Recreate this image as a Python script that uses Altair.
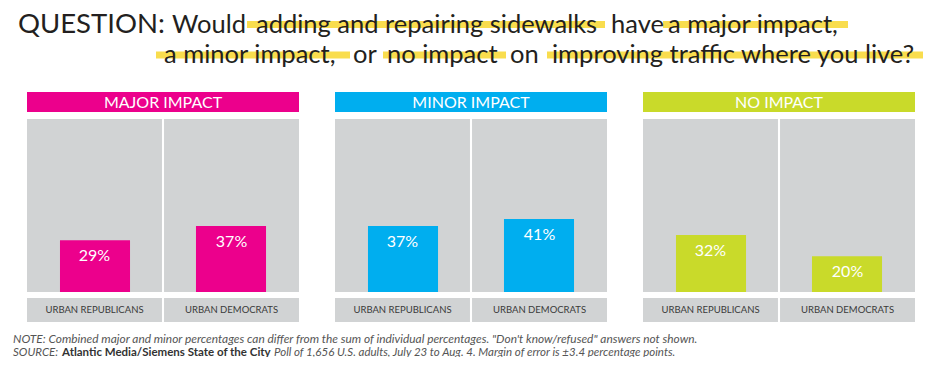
import altair as alt
import pandas as pd

# ---------------- data ----------------
impacts = ["MAJOR IMPACT", "MINOR IMPACT", "NO IMPACT"]
groups = ["URBAN REPUBLICANS", "URBAN DEMOCRATS"]
republicans = [29, 37, 32]
democrats = [37, 41, 20]
impact_colors = ["#EC008C", "#00AEEF", "#C9DA2A"]

title_line1 = ["QUESTION:", "Would", "adding and repairing sidewalks", "have", "a major impact,"]
title_line2 = ["a minor impact,", "or", "no impact", "on", "improving traffic where you live?"]

note_text = ("NOTE: Combined major and minor percentages can differ from the sum of "
             "individual percentages. \"Don't know/refused\" answers not shown.")
source_parts = ["SOURCE:", "Atlantic Media/Siemens State of the City",
                "Poll of 1,656 U.S. adults, July 23 to Aug. 4. Margin of error is \u00b13.4 percentage points."]

# ---------------- layout (pixels, chart coordinates) ----------------
W, H = 924, 349
line1_x = [10, 164, 248, 603, 660]
line1_size = [27.5, 25.5, 25.5, 25.5, 25.5]
line2_x = [156, 345, 379, 502, 544]
line1_y, line2_y = 25, 54.5
hl_spans = [(239, 597, 16.5), (655, 840, 16.5), (148, 342, 47), (375, 498, 47), (539, 915, 47)]
HL_T = 3.5
source_x = [5, 54, 266]
note_y, source_y = 335, 348

# ---------------- tables ----------------
rows = []
for i, imp in enumerate(impacts):
    for g, vals in zip(groups, [republicans, democrats]):
        rows.append({"impact": imp, "group": g, "value": vals[i], "full": 97,
                     "label": f"{vals[i]}%"})
df = pd.DataFrame(rows)
panels = pd.DataFrame({"impact": impacts})

title_rows = []
for w, x, s in zip(title_line1, line1_x, line1_size):
    title_rows.append({"text": w, "x": x, "y": line1_y, "size": s})
for w, x in zip(title_line2, line2_x):
    title_rows.append({"text": w, "x": x, "y": line2_y, "size": 25.5})
title_df = pd.DataFrame(title_rows)

hl_df = pd.DataFrame([{"x1": a, "x2": b, "y1": c - HL_T, "y2": c + HL_T} for a, b, c in hl_spans])

note_df = pd.DataFrame([
    {"text": note_text, "x": source_x[0], "y": note_y, "kind": "it", "size": 11.9},
    {"text": source_parts[0], "x": source_x[0], "y": source_y, "kind": "it", "size": 11.5},
    {"text": source_parts[1], "x": source_x[1], "y": source_y, "kind": "bold", "size": 11.5},
    {"text": source_parts[2], "x": source_x[2], "y": source_y, "kind": "it", "size": 11.5},
])

# ---------------- encodings ----------------
FONT = "Lato"
GRAY = "#D1D3D4"
x_enc = alt.X("impact:N", axis=None,
              scale=alt.Scale(type="band", domain=impacts, range=[19, 907],
                              paddingInner=36 / 308, paddingOuter=0))
xo_enc = alt.XOffset("group:N",
                     scale=alt.Scale(type="band", domain=groups, paddingInner=0.015, paddingOuter=0))
# narrower bands, centred in each half of a panel, for the value bars
xo_bar = alt.XOffset("group:N",
                     scale=alt.Scale(type="band", domain=groups, paddingInner=0.485, paddingOuter=0.2425))
y_scale = alt.Scale(domain=[0, 97], range=[284, 111])
color_enc = alt.Color("impact:N", legend=None,
                      scale=alt.Scale(domain=impacts, range=impact_colors))

base = alt.Chart(df)

gray_bg = base.mark_bar(color=GRAY).encode(
    x=x_enc, xOffset=xo_enc, y=alt.Y("full:Q", scale=y_scale, axis=None))

label_band = base.mark_bar(color=GRAY).encode(
    x=x_enc, xOffset=xo_enc, y=alt.value(290), y2=alt.value(314))

bars = base.mark_bar().encode(
    x=x_enc, xOffset=xo_bar, y=alt.Y("value:Q", scale=y_scale, axis=None), color=color_enc)

bar_text = base.mark_text(dy=16, baseline="middle", color="white", font=FONT, fontSize=16).encode(
    x=x_enc, xOffset=xo_enc, y=alt.Y("value:Q", scale=y_scale, axis=None), text="label:N")

group_text = base.mark_text(baseline="middle", color="#3a3a3a", font=FONT, fontSize=9.5).encode(
    x=x_enc, xOffset=xo_enc, y=alt.value(302), text="group:N")

header = alt.Chart(panels).mark_bar().encode(
    x=x_enc, y=alt.value(84), y2=alt.value(104), color=color_enc)

header_text = alt.Chart(panels).mark_text(baseline="middle", color="white", font=FONT,
                                          fontSize=16).encode(
    x=x_enc, y=alt.value(94.5), text="impact:N")

highlights = alt.Chart(hl_df).mark_rect(color="#F9DD4E").encode(
    x=alt.X("x1:Q", scale=None), x2="x2:Q",
    y=alt.Y("y1:Q", scale=None), y2="y2:Q")

title = alt.Chart(title_df).mark_text(align="left", baseline="alphabetic", font=FONT,
                                      color="#231F20").encode(
    x=alt.X("x:Q", scale=None), y=alt.Y("y:Q", scale=None), text="text:N",
    size=alt.Size("size:Q", scale=None, legend=None))

notes_it = alt.Chart(note_df).transform_filter("datum.kind == 'it'").mark_text(
    align="left", baseline="alphabetic", font=FONT, fontStyle="italic",
    color="#555555").encode(
    x=alt.X("x:Q", scale=None), y=alt.Y("y:Q", scale=None), text="text:N",
    size=alt.Size("size:Q", scale=None, legend=None))

notes_bold = alt.Chart(note_df).transform_filter("datum.kind == 'bold'").mark_text(
    align="left", baseline="alphabetic", font=FONT, fontWeight="bold",
    color="#333333").encode(
    x=alt.X("x:Q", scale=None), y=alt.Y("y:Q", scale=None), text="text:N",
    size=alt.Size("size:Q", scale=None, legend=None))

chart = alt.layer(
    gray_bg, label_band, bars, bar_text, group_text, header, header_text,
    highlights, title, notes_it, notes_bold
).resolve_scale(
    x="independent", y="independent", xOffset="independent", size="independent"
).properties(
    width=W, height=H, padding=0,
    autosize=alt.AutoSizeParams(type="none"),
    background="white",
).configure_view(stroke=None)

chart.save("out.html", embed_options={"renderer": "svg", "actions": False})
